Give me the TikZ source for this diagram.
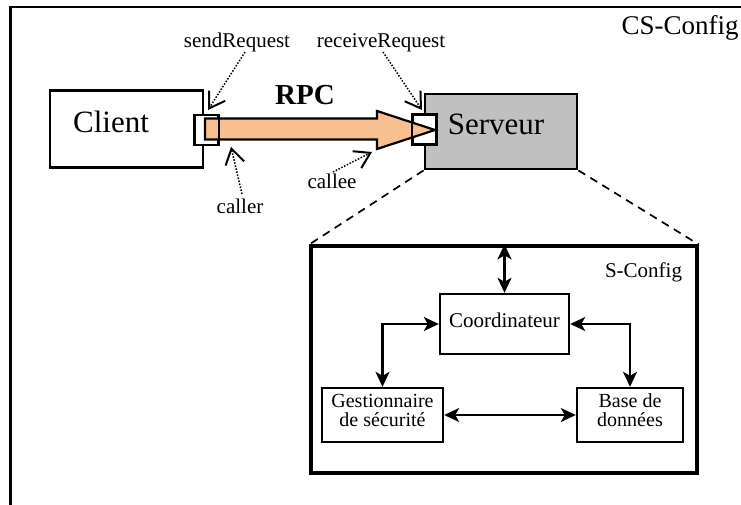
\documentclass[tikz,border=0pt]{standalone}
\usepackage{fontspec}
\setmainfont{Liberation Serif}
\usetikzlibrary{arrows.meta}
\definecolor{peach}{RGB}{248,192,144}
\definecolor{srvgray}{RGB}{192,192,192}
\begin{document}
\begin{tikzpicture}[x=1pt,y=-1pt,
 box/.style={draw, line width=2.8pt, inner sep=0pt},
 port/.style={draw, line width=1.6pt, inner sep=0pt, minimum width=23pt, minimum height=29pt},
 inbox/.style={draw, line width=2.4pt, inner sep=0pt},
 big/.style={font=\fontsize{31}{33}\selectfont, inner sep=0pt},
 lbl/.style={font=\fontsize{21}{18}\selectfont, inner sep=0pt},
 twoline/.style={font=\fontsize{20}{19}\selectfont, inner sep=0pt, align=center},
 ptr/.style={line width=1.5pt, dash pattern=on 1.5pt off 1.6pt, -{Straight Barb[length=15pt,width=19pt,line width=2pt]}},
 dbl/.style={line width=2.2pt, {Stealth[length=15pt,width=14pt,inset=4pt]}-{Stealth[length=15pt,width=14pt,inset=4pt]}},
 zoomline/.style={line width=1.7pt, dash pattern=on 8pt off 6pt}
]
\useasboundingbox (0,0) rectangle (741,505);
\clip (0,0) rectangle (741,505);
% outer frame
\draw[line width=2.2pt] (10.5,520) -- (10.5,7) -- (760,7);
\node[font=\fontsize{27}{29}\selectfont, inner sep=0pt, anchor=base] (csconfig) at (680,35) {CS-Config};

% client and server
\node[box, minimum width=153pt, minimum height=77pt] (client) at (126.5,129) {};
\node[big, anchor=base] (clientlbl) at (111,133) {Client};
\node[box, fill=srvgray, minimum width=152pt, minimum height=75pt] (serveur) at (501,131.5) {};
\node[big, anchor=base] (serveurlbl) at (496,135) {Serveur};

% ports
\node[port, fill=white] (cport) at (206.5,130) {};
\node[port, fill=white] (sport) at (424.5,129.5) {};

% RPC arrow
\coordinate (a1) at (205,118.5);
\coordinate (a2) at (377,118.5);
\coordinate (a3) at (377,111);
\coordinate (a4) at (435,130);
\coordinate (a5) at (377,149);
\coordinate (a6) at (377,139.5);
\coordinate (a7) at (205,139.5);
\draw[line width=2.2pt, fill=peach, line join=miter] (a1) -- (a2) -- (a3) -- (a4) -- (a5) -- (a6) -- (a7) -- cycle;
\draw[line width=1.6pt] (cport.south west) rectangle (cport.north east);
\draw[line width=1.6pt] (sport.south west) rectangle (sport.north east);
\node[font=\fontsize{29}{31}\selectfont\bfseries, inner sep=0pt, anchor=base] (rpc) at (305,105) {RPC};

% labels and pointers
\node[lbl, anchor=base] (sendreq) at (237,48) {sendRequest};
\node[lbl, anchor=base] (recvreq) at (381,48) {receiveRequest};
\node[lbl, anchor=base] (caller) at (240,213) {caller};
\node[lbl, anchor=base] (callee) at (332,189) {callee};
\coordinate (p1s) at (245,52);  \coordinate (p1t) at (208,110);
\coordinate (p2s) at (383,52);  \coordinate (p2t) at (422,110);
\coordinate (p3s) at (242,194); \coordinate (p3t) at (231,147);
\coordinate (p4s) at (333,172); \coordinate (p4t) at (372,152);
\draw[ptr] (p1s) -- (p1t);
\draw[ptr] (p2s) -- (p2t);
\draw[ptr] (p3s) -- (p3t);
\draw[ptr] (p4s) -- (p4t);

% S-Config
\node[draw, line width=3.2pt, inner sep=0pt, minimum width=386pt, minimum height=227pt] (sconfig) at (504,359.5) {};
\node[lbl, anchor=base] (sconfiglbl) at (643.5,277) {S-Config};
\draw[zoomline] (serveur.south west) -- (sconfig.north west);
\draw[zoomline] (serveur.south east) -- (sconfig.north east);

\node[inbox, minimum width=129pt, minimum height=60pt] (coord) at (504.5,324) {};
\node[lbl, anchor=base] (coordlbl) at (504.5,327) {Coordinateur};
\node[inbox, minimum width=121pt, minimum height=54pt] (gest) at (382.5,415) {};
\node[twoline, anchor=base] (gestlbl) at (382.5,426) {Gestionnaire\\de sécurité};
\node[inbox, minimum width=106pt, minimum height=54pt] (base) at (630,415) {};
\node[twoline, anchor=base] (baselbl) at (630,426) {Base de\\données};

\draw[dbl] (coord.north) -- (coord.north |- sconfig.north);
\draw[dbl] (coord.west) -| (gest.north);
\draw[dbl] (coord.east) -| (base.north);
\draw[dbl] (gest.east) -- (base.west);
\end{tikzpicture}
\end{document}
